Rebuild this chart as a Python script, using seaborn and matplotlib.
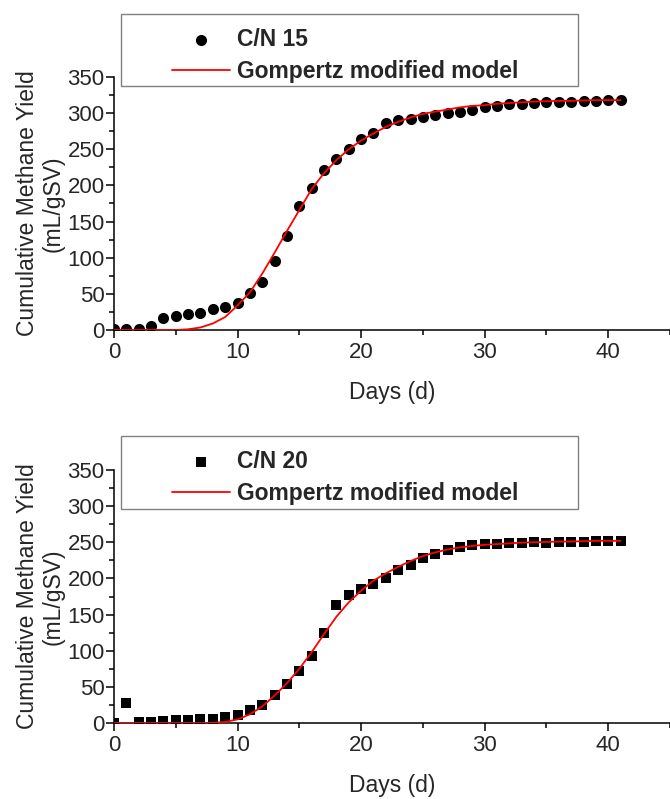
import matplotlib.pyplot as plt
import matplotlib.patches as mpatches
import pandas as pd
import seaborn as sns

# Days of digestion
days = list(range(42))

# C/N 15 measured yield and Gompertz fit (mL/gSV)
cn15_obs = [1, 2, 2, 6, 16, 19, 22, 24, 29, 32, 37, 51, 67, 96, 130, 172, 196, 221,
            237, 250, 264, 273, 286, 290, 292, 294, 298, 300, 302, 305, 308, 310,
            312, 313, 314, 315, 316, 316, 317, 317, 318, 318]
cn15_fit = [0, 0, 0, 0, 0, 0, 1, 3.5, 9, 18, 34, 52, 78, 107, 137, 166, 195, 217,
            235, 250, 262, 272, 281, 288, 294, 299, 302, 305, 308, 310, 311, 313,
            314, 315, 316, 316.5, 317, 317, 317.5, 318, 318, 318]

# C/N 20 measured yield and Gompertz fit (mL/gSV)
cn20_obs = [0, 28, 1.5, 2, 3, 4, 4, 5, 6, 8, 11, 18, 25, 39, 54, 72, 92, 124,
            163, 177, 186, 192, 200, 211, 218, 228, 234, 240, 244, 246, 247, 248,
            249, 249, 250, 249, 250, 251, 251, 252, 252, 252]
cn20_fit = [0, 0, 0, 0, 0, 0, 0, 0, 0.3, 1.5, 5, 12, 23, 38, 55, 75, 98, 123,
            147, 167, 183, 197, 207, 216, 224, 231, 236, 240, 243, 245, 246.5, 247.5,
            248.5, 249.5, 250, 250.5, 251, 251, 251.5, 252, 252, 252]

panels = [
    ("C/N 15", cn15_obs, cn15_fit, "o", 64),
    ("C/N 20", cn20_obs, cn20_fit, "s", 50),
]

sns.set_style("ticks")
plt.rcParams['font.family'] = ['Liberation Sans', 'DejaVu Sans']

W, H = 670, 799
fig = plt.figure(figsize=(W / 100, H / 100), dpi=100)

# axes boxes (pixels: left, top of y=350, bottom of y=0) and legend frames
axes_px = [(114, 77, 330), (114, 470, 723)]
legend_px = [(121, 14, 578, 86), (121, 436, 578, 509)]

for (name, obs, fit, marker, size), (left, top, bottom), box in zip(panels, axes_px, legend_px):
    ax = fig.add_axes([left / W, 1 - bottom / H, (W - left) / W, (bottom - top) / H])
    df = pd.DataFrame({"day": days, "obs": obs, "fit": fit})

    sns.scatterplot(data=df, x="day", y="obs", marker=marker, s=size, color="black",
                    linewidth=0, ax=ax, label=name, zorder=2)
    sns.lineplot(data=df, x="day", y="fit", color="red", linewidth=1.3, ax=ax,
                 label="Gompertz modified model", zorder=3)

    ax.set_xlim(0, 45)
    ax.set_ylim(0, 350)
    ax.set_xticks(range(0, 41, 10))
    ax.set_xticks(range(5, 46, 10), minor=True)
    ax.set_yticks(range(0, 351, 50))
    ax.set_yticks(range(25, 350, 50), minor=True)
    sns.despine(ax=ax)
    for s in ["left", "bottom"]:
        ax.spines[s].set_linewidth(1.1)
        ax.spines[s].set_color("black")
    ax.tick_params(which="major", length=5.8, width=1.1, labelsize=16, color="black")
    ax.tick_params(which="minor", length=3.6, width=1.1, color="black")
    ax.tick_params(axis="x", which="major", pad=3)
    ax.tick_params(axis="y", which="major", pad=1)

    ax.set_xlabel("Days (d)", fontsize=16.5, labelpad=12.5)
    ax.set_ylabel("Cumulative Methane Yield\n(mL/gSV)", fontsize=16.5, labelpad=2,
                  linespacing=1.15)

    # legend with scatter first, then the model line
    handles, labels = ax.get_legend_handles_labels()
    order = [labels.index(name), labels.index("Gompertz modified model")]
    bx0, by0, bx1, by1 = box
    ax.legend([handles[i] for i in order], [labels[i] for i in order],
              loc="upper left", bbox_to_anchor=(161 / W, 1 - (by0 + 3) / H),
              bbox_transform=fig.transFigure, frameon=False, borderpad=0,
              handlelength=2.5, handletextpad=0.3, labelspacing=0.38,
              prop={"weight": "bold", "size": 16.5})
    fig.patches.append(mpatches.Rectangle((bx0 / W, 1 - by1 / H), (bx1 - bx0) / W,
                                          (by1 - by0) / H, transform=fig.transFigure,
                                          fill=False, edgecolor="#808080", linewidth=1))

fig.savefig("out.png", dpi=100)
